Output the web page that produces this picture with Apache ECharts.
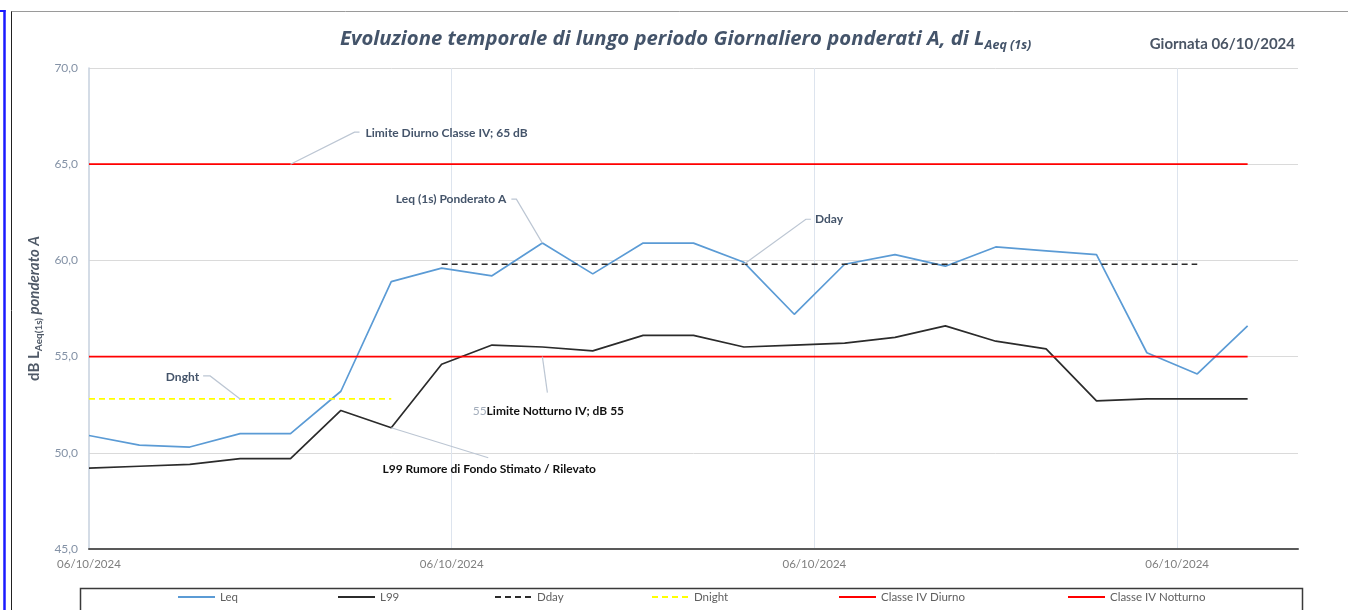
<!DOCTYPE html>
<html>
<head>
<meta charset="utf-8">
<script src="https://cdn.jsdelivr.net/npm/echarts@6/dist/echarts.min.js"></script>
<style>
  html, body { margin: 0; padding: 0; background: #ffffff; }
  #chart { width: 1348px; height: 610px; }
</style>
</head>
<body>
<div id="chart"></div>
<script>
// Hourly samples of the day (hours from midnight)
const hours = [0, 1, 2, 3, 4, 5, 6, 7, 8, 9, 10, 11, 12, 13, 14, 15, 16, 17, 18, 19, 20, 21, 22, 23];

// Axis tick labels
const xTickLabels = ['06/10/2024', '06/10/2024', '06/10/2024', '06/10/2024'];
const yTickLabels = ['45,0', '50,0', '55,0', '60,0', '65,0', '70,0'];

// Measured levels, dB(A)
const leq = [50.9, 50.4, 50.3, 51.0, 51.0, 53.2, 58.9, 59.6, 59.2, 60.9, 59.3, 60.9,
             60.9, 59.9, 57.2, 59.8, 60.3, 59.7, 60.7, 60.5, 60.3, 55.2, 54.1, 56.6];
const l99 = [49.2, 49.3, 49.4, 49.7, 49.7, 52.2, 51.3, 54.6, 55.6, 55.5, 55.3, 56.1,
             56.1, 55.5, 55.6, 55.7, 56.0, 56.6, 55.8, 55.4, 52.7, 52.8, 52.8, 52.8];
const dday = [null, null, null, null, null, null, null, 59.8, 59.8, 59.8, 59.8, 59.8,
              59.8, 59.8, 59.8, 59.8, 59.8, 59.8, 59.8, 59.8, 59.8, 59.8, 59.8, null];
const dnight = [52.8, 52.8, 52.8, 52.8, 52.8, 52.8, 52.8, null, null, null, null, null,
                null, null, null, null, null, null, null, null, null, null, null, null];

// Class IV limits
const limiteDiurno = [65, 65, 65, 65, 65, 65, 65, 65, 65, 65, 65, 65,
                      65, 65, 65, 65, 65, 65, 65, 65, 65, 65, 65, 65];
const limiteNotturno = [55, 55, 55, 55, 55, 55, 55, 55, 55, 55, 55, 55,
                        55, 55, 55, 55, 55, 55, 55, 55, 55, 55, 55, 55];

const seriesNames = ['Leq', 'L99', 'Dday', 'Dnight', 'Classe IV Diurno', 'Classe IV Notturno'];

// Callout texts and the hour of the point each one points at
const calloutTexts = [
  'Limite Diurno Classe IV; 65 dB',
  'Leq (1s) Ponderato A',
  'Dday',
  'Dnght',
  '{g|55}{k|Limite Notturno IV; dB 55}',
  'L99 Rumore di Fondo Stimato / Rilevato'
];
const calloutSeries = [limiteDiurno, leq, dday, dnight, limiteNotturno, l99];
const calloutHours = [4, 9, 13, 3, 9, 6];

// Pixel geometry of each callout relative to its anchor point
const calloutLayout = [
  { path: [[64, -32], [69, -32]], text: [75, -31], align: 'left', color: '#44546a' },
  { path: [[-26, -44], [-31, -44]], text: [-36, -44], align: 'right', color: '#44546a' },
  { path: [[62, -45], [67, -45]], text: [71, -45], align: 'left', color: '#44546a' },
  { path: [[-30, -23], [-37, -23]], text: [-41, -22], align: 'right', color: '#44546a' },
  { path: [[5, 36]], text: [6, 55], align: 'center', color: '#111111' },
  { path: [[97, 30]], text: [98, 41], align: 'center', color: '#111111' }
];

const FONT = 'Lato, "Open Sans", "DejaVu Sans", sans-serif';
const TITLE_FONT = '"Open Sans", Lato, "DejaVu Sans", sans-serif';
const X_STEP = 7.2;

function pairs(values) {
  return hours.map((h, i) => [h, values[i]]);
}

function lineSeries(name, values, color, width, type) {
  return {
    name: name,
    type: 'line',
    data: pairs(values),
    symbol: 'none',
    connectNulls: false,
    lineStyle: { color: color, width: width, type: type || 'solid' },
    itemStyle: { color: color },
    emphasis: { disabled: true },
    silent: true
  };
}

const chart = echarts.init(document.getElementById('chart'), null, { renderer: 'canvas' });

const legendStarts = [177, 337, 494, 651, 838, 1067];

const option = {
  animation: false,
  backgroundColor: '#ffffff',
  textStyle: { fontFamily: FONT },
  title: [
    {
      text: '{t|Evoluzione temporale di lungo periodo Giornaliero ponderati A, di L}{s|Aeq (1s)}',
      left: 335,
      top: 22,
      textStyle: {
        rich: {
          t: { fontFamily: TITLE_FONT, fontSize: 20.3, fontWeight: 'bold', fontStyle: 'italic', color: '#44546a', lineHeight: 25 },
          s: { fontFamily: TITLE_FONT, fontSize: 12.5, fontWeight: 'bold', fontStyle: 'italic', color: '#44546a', lineHeight: 12, verticalAlign: 'bottom' }
        }
      }
    },
    {
      text: 'Giornata 06/10/2024',
      right: 48,
      top: 32,
      textStyle: { fontFamily: FONT, fontSize: 15, fontWeight: 'bold', color: '#4a5565' }
    }
  ],
  grid: { left: 89, right: 50, top: 68, bottom: 61, containLabel: false },
  xAxis: {
    type: 'value',
    min: 0,
    max: 24,
    interval: X_STEP,
    axisLine: { onZero: false, lineStyle: { color: '#595959', width: 2 } },
    axisTick: { show: false },
    axisLabel: {
      color: '#7f7f7f',
      fontFamily: FONT,
      fontSize: 11.5,
      margin: 9,
      showMaxLabel: false,
      formatter: function (v) {
        const k = Math.round(v / X_STEP);
        return Math.abs(v / X_STEP - k) < 1e-6 ? (xTickLabels[k] || '') : '';
      }
    },
    splitLine: { show: true, showMinLine: false, showMaxLine: false, lineStyle: { color: '#dde4ee', width: 1 } }
  },
  yAxis: {
    type: 'value',
    min: 45,
    max: 70,
    interval: 5,
    name: '{b|dB L}{s|Aeq(1s)}{i| ponderato A}',
    nameLocation: 'middle',
    nameGap: 42,
    nameTextStyle: {
      rich: {
        b: { fontFamily: FONT, fontSize: 15, fontWeight: 'bold', color: '#4f5967', lineHeight: 18 },
        s: { fontFamily: FONT, fontSize: 10, fontWeight: 'bold', color: '#4f5967', lineHeight: 10, verticalAlign: 'bottom' },
        i: { fontFamily: FONT, fontSize: 15, fontWeight: 'bold', fontStyle: 'italic', color: '#4f5967', lineHeight: 18 }
      }
    },
    axisLine: { show: true, lineStyle: { color: '#c6d0de', width: 1.5 } },
    axisTick: { show: false },
    axisLabel: {
      color: '#8492a6',
      fontFamily: FONT,
      fontSize: 12,
      margin: 11,
      formatter: function (v) {
        return yTickLabels[Math.round((v - 45) / 5)] || '';
      }
    },
    splitLine: { show: true, lineStyle: { color: '#dadada', width: 1 } }
  },
  legend: seriesNames.map((n, i) => ({
    data: [n],
    left: legendStarts[i],
    top: 591,
    padding: 0,
    itemWidth: 37,
    itemHeight: 12,
    selectedMode: false,
    itemStyle: { opacity: 0 },
    textStyle: { color: '#606060', fontFamily: FONT, fontSize: 11.5 }
  })),
  graphic: [
    // legend frame
    { type: 'rect', left: 78, top: 586, shape: { width: 1222, height: 40 },
      style: { fill: 'none', stroke: '#3a3a3a', lineWidth: 1.5 }, silent: true, z: 0 },
    // sheet frame at the left edge
    { type: 'line', shape: { x1: 4.5, y1: 10, x2: 4.5, y2: 610 }, style: { stroke: '#1a1aff', lineWidth: 2.5 }, silent: true },
    { type: 'line', shape: { x1: 0, y1: 11, x2: 5.5, y2: 11 }, style: { stroke: '#1a1aff', lineWidth: 2 }, silent: true },
    { type: 'line', shape: { x1: 11.5, y1: 11, x2: 11.5, y2: 610 }, style: { stroke: '#222222', lineWidth: 1 }, silent: true },
    { type: 'line', shape: { x1: 11.5, y1: 11.5, x2: 1348, y2: 11.5 }, style: { stroke: '#9a9a9a', lineWidth: 1 }, silent: true }
  ],
  series: [
    lineSeries(seriesNames[0], leq, '#5b9bd5', 1.7),
    lineSeries(seriesNames[1], l99, '#2b2b2b', 1.7),
    lineSeries(seriesNames[2], dday, '#2b2b2b', 1.7, [6, 4]),
    lineSeries(seriesNames[3], dnight, '#ffff00', 1.7, [6, 4]),
    lineSeries(seriesNames[4], limiteDiurno, '#ff0000', 1.7),
    lineSeries(seriesNames[5], limiteNotturno, '#ff0000', 1.7),
    {
      name: 'callouts',
      type: 'custom',
      coordinateSystem: 'cartesian2d',
      silent: true,
      clip: false,
      z: 5,
      data: calloutHours.map((h, i) => [h, calloutSeries[i][h], i]),
      renderItem: function (params, api) {
        const p = api.coord([api.value(0), api.value(1)]);
        const idx = api.value(2);
        const lay = calloutLayout[idx];
        const pts = [p].concat(lay.path.map(d => [p[0] + d[0], p[1] + d[1]]));
        return {
          type: 'group',
          children: [
            { type: 'polyline', shape: { points: pts },
              style: { stroke: '#bcc6d3', lineWidth: 1.2, fill: null } },
            { type: 'text', x: p[0] + lay.text[0], y: p[1] + lay.text[1],
              style: {
                text: calloutTexts[idx],
                fill: lay.color,
                fontFamily: FONT,
                fontSize: 12,
                fontWeight: 'bold',
                align: lay.align,
                verticalAlign: 'middle',
                rich: {
                  g: { fill: '#a3adbb', fontFamily: FONT, fontSize: 12, fontWeight: 'normal' },
                  k: { fill: '#111111', fontFamily: FONT, fontSize: 12, fontWeight: 'bold' }
                }
              } }
          ]
        };
      }
    }
  ]
};

chart.setOption(option);
</script>
</body>
</html>
